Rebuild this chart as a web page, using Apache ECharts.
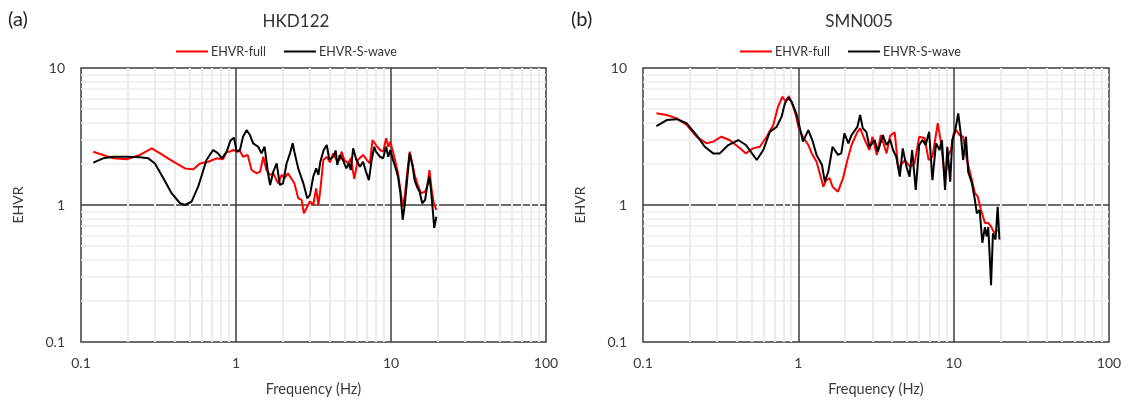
<!DOCTYPE html>
<html>
<head>
<meta charset="utf-8">
<script src="https://cdn.jsdelivr.net/npm/echarts@6/dist/echarts.min.js"></script>
<style>
  html, body { margin: 0; padding: 0; background: #ffffff; }
  #chart { width: 1126px; height: 403px; }
</style>
</head>
<body>
<div id="chart"></div>
<script>
// Station HKD122: EHVR from full record and from S-wave window
const hkdFullFreq = [0.12,0.139,0.162,0.197,0.24,0.286,0.324,0.394,0.469,0.531,0.586,0.662,0.75,0.826,0.871,0.914,0.962,1.01,1.06,1.11,1.19,1.26,1.36,1.43,1.5,1.57,1.66,1.74,1.87,1.97,2.06,2.16,2.27,2.38,2.52,2.65,2.74,2.88,3.0,3.15,3.29,3.4,3.5,3.66,3.85,4.04,4.24,4.45,4.67,4.8,5.0,5.3,5.5,5.8,6.1,6.6,7.0,7.3,7.6,8.0,8.5,8.9,9.3,9.6,9.9,10.3,10.8,11.1,11.5,11.9,12.3,12.7,13.2,13.8,14.2,14.9,15.6,16.6,17.1,17.7,18.3,18.9,19.6];
const hkdFullVal  = [2.45,2.32,2.19,2.16,2.32,2.59,2.38,2.07,1.85,1.82,2.01,2.07,2.19,2.16,2.45,2.45,2.52,2.45,2.49,2.25,2.32,1.80,1.70,1.75,2.25,1.80,1.66,1.70,1.44,1.66,1.57,1.70,1.57,1.44,1.12,1.09,0.87,0.97,1.06,1.0,1.32,1.0,1.29,2.13,2.25,2.05,2.38,2.13,2.13,2.45,2.13,2.01,2.2,1.55,2.13,2.32,2.13,2.01,2.98,2.74,2.52,2.45,3.07,2.66,2.9,2.45,1.96,1.70,1.29,0.97,1.18,1.70,2.45,1.96,1.66,1.40,1.22,1.25,1.36,1.80,1.29,1.03,0.92];

const hkdSFreq = [0.12,0.139,0.162,0.197,0.24,0.272,0.3,0.34,0.384,0.435,0.469,0.517,0.57,0.645,0.712,0.767,0.81,0.871,0.92,0.97,1.01,1.06,1.11,1.17,1.23,1.29,1.39,1.46,1.53,1.61,1.66,1.74,1.83,1.92,2.01,2.12,2.23,2.32,2.38,2.52,2.72,2.88,3.0,3.15,3.29,3.4,3.5,3.68,3.85,4.0,4.24,4.4,4.5,4.67,4.9,5.15,5.35,5.5,5.7,5.98,6.3,6.6,6.9,7.2,7.5,7.8,8.0,8.5,8.9,9.3,9.6,9.9,10.3,10.8,11.1,11.5,11.9,12.3,12.7,13.2,13.8,14.2,14.7,15.3,15.9,16.6,17.1,17.7,18.1,18.6,19.0,19.6];
const hkdSVal  = [2.04,2.19,2.25,2.25,2.23,2.19,2.01,1.57,1.22,1.03,1.0,1.06,1.36,2.13,2.52,2.38,2.19,2.45,2.95,3.1,2.45,2.52,3.15,3.52,3.24,2.82,2.66,2.38,2.66,1.70,1.40,1.75,2.01,1.40,1.44,2.01,2.38,2.82,2.45,1.85,1.44,1.12,1.18,1.61,1.85,1.66,2.07,2.52,2.74,2.15,2.25,2.5,1.96,2.32,2.13,1.85,2.01,1.8,2.59,2.13,1.9,2.07,1.75,1.52,2.13,2.66,2.45,2.25,2.19,2.66,2.25,2.52,2.13,1.8,1.61,1.22,0.78,1.03,1.52,2.38,1.9,1.52,1.36,1.25,1.03,1.09,1.36,1.61,1.29,0.92,0.68,0.82];

// Station SMN005
const smnFullFreq = [0.122,0.142,0.165,0.191,0.221,0.257,0.283,0.32,0.36,0.41,0.46,0.51,0.565,0.625,0.69,0.74,0.79,0.83,0.87,0.92,0.97,1.0,1.07,1.16,1.22,1.31,1.45,1.51,1.59,1.66,1.8,1.94,2.07,2.2,2.4,2.5,2.68,2.87,3.0,3.2,3.4,3.7,3.9,4.17,4.4,4.85,5.25,5.6,6.0,6.5,6.9,7.3,7.9,8.3,8.8,9.25,9.6,10.0,10.4,10.9,11.5,12.1,13.1,13.7,14.3,15.0,15.9,16.7,17.5,18.3,19.2];
const smnFullVal  = [4.67,4.54,4.29,3.84,3.15,2.82,2.9,3.15,2.98,2.66,2.38,2.59,2.66,3.15,3.84,5.22,6.17,5.68,6.24,5.36,4.41,3.72,3.15,2.74,2.38,2.07,1.36,1.52,1.57,1.36,1.25,1.57,2.13,2.74,3.42,3.63,2.98,2.52,3.15,2.32,3.24,2.38,3.2,3.4,1.85,2.13,1.90,2.01,3.15,3.07,2.13,2.25,3.95,2.82,1.52,2.32,2.52,3.33,3.52,3.24,3.15,2.19,1.52,1.22,1.15,0.92,0.74,0.74,0.69,0.62,0.66];

const smnSFreq = [0.122,0.142,0.165,0.191,0.221,0.25,0.283,0.312,0.354,0.41,0.46,0.54,0.595,0.655,0.725,0.78,0.82,0.86,0.905,0.97,1.02,1.07,1.16,1.24,1.31,1.42,1.48,1.56,1.66,1.8,1.89,1.98,2.1,2.2,2.4,2.5,2.6,2.74,2.87,3.1,3.25,3.5,3.7,3.9,4.07,4.27,4.5,4.7,4.97,5.2,5.4,5.7,6.0,6.3,6.6,6.95,7.3,7.7,8.1,8.4,8.8,9.1,9.5,9.8,10.2,10.7,11.1,11.5,12.0,12.4,13.1,13.7,14.1,14.7,15.3,15.9,16.3,16.7,17.2,17.4,17.9,18.6,19.2,19.7];
const smnSVal  = [3.77,4.17,4.23,3.95,3.24,2.66,2.38,2.38,2.74,2.98,2.74,2.13,2.52,3.42,3.72,4.41,5.52,6.1,5.68,4.67,3.7,2.9,3.52,2.9,2.32,1.96,1.48,1.75,2.66,2.32,2.38,3.33,2.82,3.24,3.72,4.54,3.63,3.42,2.66,2.98,2.45,3.24,2.74,3.0,2.52,2.25,1.61,2.59,1.90,1.61,2.52,1.29,2.74,2.98,2.74,3.42,1.52,2.82,2.52,2.98,1.29,2.66,1.48,2.98,3.42,4.67,3.33,2.13,3.15,1.75,1.44,1.09,0.87,0.92,0.53,0.69,0.59,0.69,0.35,0.26,0.62,0.56,0.97,0.56];

// Axis ticks (log decades) and intermediate grid values
const freqTicks = [0.1, 1, 10, 100];
const ehvrTicks = [0.1, 1, 10];
const freqMinor = [0.2,0.3,0.4,0.5,0.6,0.7,0.8,0.9,2,3,4,5,6,7,8,9,20,30,40,50,60,70,80,90];
const ehvrMinor = [0.2,0.3,0.4,0.5,0.6,0.7,0.8,0.9,2,3,4,5,6,7,8,9];
const freqMajorInner = [1, 10];
const ehvrMajorInner = [1];

const panels = [
  { tag: '(a)', title: 'HKD122', full: [hkdFullFreq, hkdFullVal], swave: [hkdSFreq, hkdSVal] },
  { tag: '(b)', title: 'SMN005', full: [smnFullFreq, smnFullVal], swave: [smnSFreq, smnSVal] }
];

const FONT = 'Lato, "Open Sans", sans-serif';
const TXT = '#3a3a3a';
const GRID_DARK = '#3c3c3c';
const GRID_LIGHT = '#ececec';

const zip = (xs, ys) => xs.map((x, i) => [x, ys[i]]);

const gridBoxes = [
  { left: 81, top: 68, width: 465, height: 274 },
  { left: 643, top: 68, width: 466, height: 274 }
];
const titleX = [296, 859];
const tagX = [8, 571];
const legendX = [176, 740];

const option = {
  animation: false,
  backgroundColor: '#ffffff',
  textStyle: { fontFamily: FONT },
  title: [],
  legend: [],
  grid: [],
  xAxis: [],
  yAxis: [],
  series: []
};

panels.forEach((p, k) => {
  option.title.push({
    text: p.tag, left: tagX[k], top: 10, padding: 0,
    textStyle: { fontFamily: FONT, fontSize: 20, fontWeight: 'normal', color: '#222' }
  });
  option.title.push({
    text: p.title, left: titleX[k], top: 13, padding: 0, textAlign: 'center',
    textStyle: { fontFamily: FONT, fontSize: 17, fontWeight: 'normal', color: '#333' }
  });
  option.legend.push({
    left: legendX[k], top: 45, padding: 0,
    icon: 'rect', itemWidth: 32, itemHeight: 2, itemGap: 18,
    data: ['EHVR-full', 'EHVR-S-wave'],
    textStyle: { fontFamily: FONT, fontSize: 12.5, color: '#333', padding: [0, 0, 0, -2] }
  });
  option.grid.push(Object.assign({
    show: true, borderColor: GRID_DARK, borderWidth: 1.5, backgroundColor: 'transparent'
  }, gridBoxes[k]));
  option.xAxis.push({
    type: 'log', logBase: 10, min: 0.1, max: 100, gridIndex: k,
    name: 'Frequency (Hz)', nameLocation: 'middle', nameGap: 40,
    nameTextStyle: { fontFamily: FONT, fontSize: 14.5, color: TXT },
    axisLine: { show: false }, axisTick: { show: false }, splitLine: { show: false },
    axisLabel: {
      fontFamily: FONT, fontSize: 14, color: TXT, margin: 14,
      formatter: v => freqTicks.find(t => Math.abs(t - v) / t < 1e-6) !== undefined ? String(+v.toPrecision(3)) : ''
    }
  });
  option.yAxis.push({
    type: 'log', logBase: 10, min: 0.1, max: 10, gridIndex: k,
    name: 'EHVR', nameLocation: 'middle', nameGap: 56, nameRotate: 90,
    nameTextStyle: { fontFamily: FONT, fontSize: 14, color: TXT },
    axisLabel: {
      fontFamily: FONT, fontSize: 14, color: TXT, margin: 16,
      formatter: v => ehvrTicks.find(t => Math.abs(t - v) / t < 1e-6) !== undefined ? String(+v.toPrecision(3)) : ''
    },
    axisLine: { show: false }, axisTick: { show: false }, splitLine: { show: false }
  });

  const gridLineSeries = (name, values, dir, color, width, z) => ({
    name: name, type: 'line', xAxisIndex: k, yAxisIndex: k, data: [], z: z,
    silent: true, legendHoverLink: false,
    markLine: {
      silent: true, symbol: 'none', animation: false, z: z,
      label: { show: false }, emphasis: { disabled: true },
      lineStyle: { color: color, width: width, type: 'solid' },
      data: values.map(v => (dir === 'x' ? { xAxis: v } : { yAxis: v }))
    }
  });

  option.series.push(gridLineSeries('hminor' + k, ehvrMinor, 'y', GRID_LIGHT, 1.5, 1));
  option.series.push(gridLineSeries('hmajor' + k, ehvrMajorInner, 'y', GRID_DARK, 1.5, 2));
  option.series.push(gridLineSeries('vminor' + k, freqMinor, 'x', GRID_LIGHT, 2, 3));
  option.series.push(gridLineSeries('vmajor' + k, freqMajorInner, 'x', GRID_DARK, 1.5, 4));

  option.series.push({
    name: 'EHVR-full', type: 'line', xAxisIndex: k, yAxisIndex: k, z: 5,
    showSymbol: false, symbol: 'none',
    lineStyle: { color: '#ff0000', width: 2 }, itemStyle: { color: '#ff0000' },
    data: zip(p.full[0], p.full[1])
  });
  option.series.push({
    name: 'EHVR-S-wave', type: 'line', xAxisIndex: k, yAxisIndex: k, z: 6,
    showSymbol: false, symbol: 'none',
    lineStyle: { color: '#000000', width: 2 }, itemStyle: { color: '#000000' },
    data: zip(p.swave[0], p.swave[1])
  });
});

const chart = echarts.init(document.getElementById('chart'), null, { renderer: 'canvas' });
chart.setOption(option);
</script>
</body>
</html>
